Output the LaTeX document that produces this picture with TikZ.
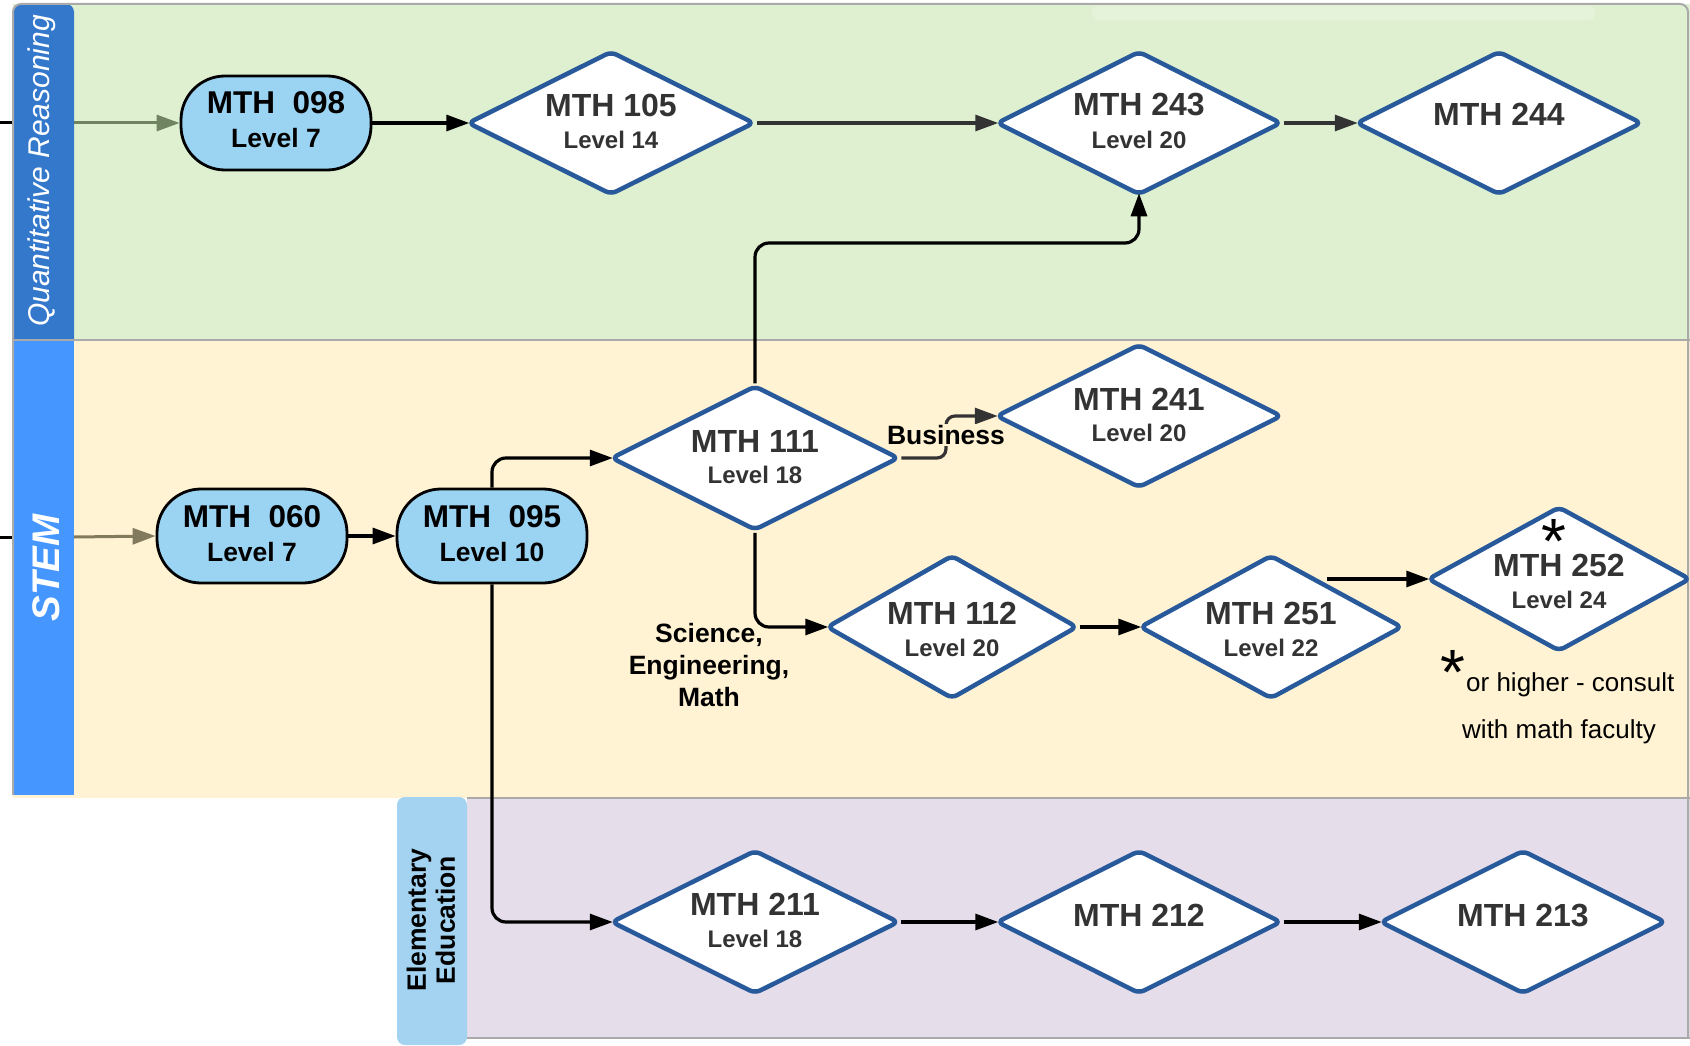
\documentclass[tikz,border=0pt]{standalone}
\usepackage{fontspec}
\setmainfont{Liberation Sans}
\usetikzlibrary{shapes.geometric,arrows.meta}
\definecolor{qrlane}{RGB}{222,240,208}
\definecolor{stemlane}{RGB}{255,243,212}
\definecolor{elemlane}{RGB}{230,221,234}
\definecolor{qrband}{RGB}{52,120,204}
\definecolor{stemband}{RGB}{69,150,255}
\definecolor{elembox}{RGB}{163,211,240}
\definecolor{stadfill}{RGB}{155,211,242}
\definecolor{diablue}{RGB}{40,90,155}
\definecolor{textgray}{RGB}{51,51,51}
\definecolor{framegray}{RGB}{170,170,170}
\definecolor{qrarrow}{RGB}{112,132,98}
\definecolor{stemarrow}{RGB}{130,122,92}
\definecolor{faintbar}{RGB}{229,243,219}
\begin{document}
\begin{tikzpicture}[x=1pt,y=-1pt,
  dia/.style={diamond, draw=diablue, line width=4.5pt, fill=white, rounded corners=6pt, inner sep=0pt},
  stad/.style={rectangle, draw=black, line width=2.8pt, fill=stadfill, rounded corners=44pt, minimum width=190pt, minimum height=94pt, inner sep=0pt},
  ttl/.style={font=\fontsize{32}{36}\selectfont\bfseries, text=textgray, inner sep=0pt},
  lvl/.style={font=\fontsize{24}{28}\selectfont\bfseries, text=textgray, inner sep=0pt},
  sttl/.style={font=\fontsize{31.5}{36}\selectfont\bfseries, text=black, inner sep=0pt},
  slvl/.style={font=\fontsize{26.5}{30}\selectfont\bfseries, text=black, inner sep=0pt},
  conn/.style={line width=3.2pt, draw=black, -{Triangle[length=23pt,width=16pt]}, rounded corners=14pt},
  todia/.style={shorten >=-4pt},
  lbl/.style={font=\fontsize{26.5}{32}\selectfont\bfseries, text=black, inner sep=1pt},
  note/.style={font=\fontsize{26}{30}\selectfont, text=black, inner sep=0pt},
  star/.style={font=\fontsize{64}{64}\selectfont, text=black, inner sep=0pt, anchor=base},
]
\useasboundingbox (0,0) rectangle (1690,1046);
\fill[white] (0,0) rectangle (1690,1046);
% lanes
\fill[qrlane] (13,4) rectangle (1690,340);
\fill[stemlane] (13,340) rectangle (1690,798);
\fill[elemlane] (467,798) rectangle (1690,1038);
\fill[faintbar, rounded corners=6pt] (1092,6) rectangle (1595,20);
% entry stubs
\coordinate (qin) at (0,123);
\coordinate (qb) at (74,123);
\coordinate (sin) at (0,537);
\coordinate (sb) at (74,537);
\draw[line width=3pt] (qin) -- (qb);
\draw[line width=3pt] (sin) -- (sb);
% bands
\fill[qrband] (13,340) [rounded corners=8pt] -- (13,4) -- (74,4) [sharp corners] -- (74,340) -- cycle;
\fill[stemband] (13,340) rectangle (74,795);
\fill[elembox, rounded corners=8pt] (397,797) rectangle (467,1045);
% frame lines
\draw[framegray, line width=2pt, rounded corners=8pt] (13,795) -- (13,4) -- (1688,4) -- (1688,1038);
\draw[framegray, line width=2pt] (13,340) -- (1690,340);
\draw[framegray, line width=2pt] (467,798) -- (1690,798);
\draw[framegray, line width=2pt] (467,1038) -- (1690,1038);
% lane labels
\node[rotate=90, text=white, inner sep=0pt, font=\fontsize{30}{34}\selectfont\itshape] (qrl) at (42,171) {Quantitative Reasoning};
\node[rotate=90, text=white, inner sep=0pt, font=\fontsize{38.5}{44}\selectfont\bfseries\itshape] (steml) at (46,568) {STEM};
\node[rotate=90, text=black, inner sep=0pt, align=center, font=\fontsize{26.5}{29}\selectfont\bfseries] (eel) at (431,920) {Elementary\\Education};
% stadium nodes
\node[stad] (m098) at (276,123) {};
\node[sttl] (m098a) at (276,102.5) {MTH\ \ 098};
\node[slvl] (m098b) at (276,138.5) {Level 7};
\node[stad] (m060) at (252,536) {};
\node[sttl] (m060a) at (252,517) {MTH\ \ 060};
\node[slvl] (m060b) at (252,552.5) {Level 7};
\node[stad] (m095) at (492,536) {};
\node[sttl] (m095a) at (492,517) {MTH\ \ 095};
\node[slvl] (m095b) at (492,552.5) {Level 10};
% diamonds
\node[dia, minimum width=287pt, minimum height=144pt] (m105) at (611,123) {};
\node[ttl] (m105a) at (611,105) {MTH 105};
\node[lvl] (m105b) at (611,140) {Level 14};
\node[dia, minimum width=285pt, minimum height=144pt] (m243) at (1139,123) {};
\node[ttl] (m243a) at (1139,105) {MTH 243};
\node[lvl] (m243b) at (1139,140) {Level 20};
\node[dia, minimum width=286pt, minimum height=144pt] (m244) at (1499,123) {};
\node[ttl] (m244a) at (1499,114) {MTH 244};
\node[dia, minimum width=288pt, minimum height=145pt] (m111) at (755,458) {};
\node[ttl] (m111a) at (755,441) {MTH 111};
\node[lvl] (m111b) at (755,475) {Level 18};
\node[dia, minimum width=286pt, minimum height=144pt] (m241) at (1139,416) {};
\node[ttl] (m241a) at (1139,399) {MTH 241};
\node[lvl] (m241b) at (1139,433) {Level 20};
\node[dia, minimum width=251pt, minimum height=144pt] (m112) at (952,627) {};
\node[ttl] (m112a) at (952,613) {MTH 112};
\node[lvl] (m112b) at (952,648) {Level 20};
\node[dia, minimum width=263pt, minimum height=144pt] (m251) at (1271,627) {};
\node[ttl] (m251a) at (1271,613) {MTH 251};
\node[lvl] (m251b) at (1271,648) {Level 22};
\node[dia, minimum width=263pt, minimum height=145pt] (m252) at (1559,579) {};
\node[ttl] (m252a) at (1559,565) {MTH 252};
\node[lvl] (m252b) at (1559,600) {Level 24};
\node[dia, minimum width=288pt, minimum height=144pt] (m211) at (755,922) {};
\node[ttl] (m211a) at (755,904) {MTH 211};
\node[lvl] (m211b) at (755,939) {Level 18};
\node[dia, minimum width=285pt, minimum height=144pt] (m212) at (1139,922) {};
\node[ttl] (m212a) at (1139,915) {MTH 212};
\node[dia, minimum width=286pt, minimum height=144pt] (m213) at (1523,922) {};
\node[ttl] (m213a) at (1523,915) {MTH 213};
% stars and note
\node[star] (st1) at (1554,563) {*};
\node[star] (st2) at (1453,694) {*};
\node[note, anchor=base west] (n1) at (1466,691) {or higher - consult};
\node[note, anchor=base west] (n2) at (1462,738) {with math faculty};
% connectors
\draw[line width=3pt, qrarrow, -{Triangle[length=23pt,width=16pt]}] (qb) -- (m098.west);
\draw[line width=3pt, stemarrow, -{Triangle[length=23pt,width=16pt]}] (sb) -- (m060.west);
\draw[conn, todia] (m098.east) -- (m105.west);
\draw[conn, todia, draw=textgray] (m105.east) -- (m243.west);
\draw[conn, todia, draw=textgray] (m243.east) -- (m244.west);
\coordinate (k1) at (0,243);
\draw[conn, todia] (m111.north) |- (k1 -| m243.south) -- (m243.south);
\draw[conn] (m060.east) -- (m095.west);
\draw[conn, todia] (m095.north) |- (m111.west);
\coordinate (bz) at (946,437);
\draw[conn, todia, draw=textgray, rounded corners=9pt] (m111.east) -| (bz) |- (m241.west);
\node[lbl, fill=stemlane] (busl) at (946,435) {Business};
\draw[conn, todia] (m111.south) |- (m112.west);
\node[lbl, align=center] (sci) at (709,665) {Science,\\Engineering,\\Math};
\draw[conn, todia] (m112.east) -- (m251.west);
\coordinate (c251) at ([xshift=-11pt]m251.north east);
\draw[conn, todia] (c251 |- m252.west) -- (m252.west);
\draw[conn, todia] (m095.south) |- (m211.west);
\draw[conn, todia] (m211.east) -- (m212.west);
\draw[conn, todia] (m212.east) -- (m213.west);
\end{tikzpicture}
\end{document}
